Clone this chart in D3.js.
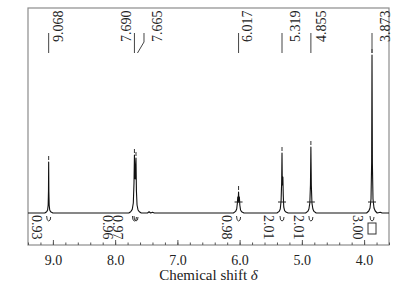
<!DOCTYPE html>
<html>
<head>
<meta charset="utf-8">
<script src="https://cdn.jsdelivr.net/npm/d3@7"></script>
<style>
  body { margin: 0; background: #fff; }
  svg { display: block; font-family: "Liberation Serif", "Times New Roman", serif; }
</style>
</head>
<body>
<svg id="chart" width="402" height="285"></svg>
<script>
// spectrum trace: [shift in ppm, intensity]
const spectrum = [
  [9.40, 0], [9.13, 0], [9.10, 0.6], [9.085, 1.5], [9.076, 4], [9.071, 11], [9.068, 25.5],
  [9.065, 11], [9.060, 4], [9.051, 1.5], [9.036, 0.6], [9.00, 0],
  [7.78, 0], [7.75, 0.6], [7.725, 1.8], [7.708, 5], [7.697, 15], [7.690, 29], [7.684, 19],
  [7.677, 17], [7.670, 24], [7.665, 27.5], [7.658, 11], [7.648, 4], [7.632, 1.5], [7.612, 0.6],
  [7.58, 0], [7.48, 0], [7.455, 0.6], [7.43, 0], [7.40, 0.4], [7.37, 0],
  [6.10, 0], [6.065, 0.8], [6.047, 2], [6.036, 5], [6.030, 8], [6.024, 5.5], [6.017, 10.5],
  [6.010, 5.5], [6.004, 8], [5.997, 4], [5.985, 1.5], [5.968, 0.6], [5.93, 0],
  [5.40, 0], [5.365, 0.8], [5.347, 2], [5.334, 6], [5.325, 15], [5.319, 30], [5.314, 14],
  [5.310, 15], [5.305, 18], [5.299, 9], [5.291, 3], [5.277, 1.2], [5.258, 0.5], [5.22, 0],
  [4.94, 0], [4.905, 0.8], [4.887, 2], [4.872, 5], [4.862, 14], [4.855, 33], [4.848, 14],
  [4.838, 5], [4.823, 2], [4.805, 0.8], [4.77, 0],
  [3.96, 0], [3.925, 1], [3.905, 2.5], [3.889, 7], [3.879, 25], [3.873, 79], [3.867, 25],
  [3.857, 7], [3.841, 2.5], [3.821, 1], [3.79, 0], [3.74, 0.4], [3.71, 0], [3.60, 0]
];

// picked peaks
const peakShifts = [9.068, 7.690, 7.665, 6.017, 5.319, 4.855, 3.873];
const peakTexts = ["9.068", "7.690", "7.665", "6.017", "5.319", "4.855", "3.873"];

// integrals
const integralValues = ["0.93", "0.96", "0.97", "0.98", "2.01", "2.01", "3.00"];
const integralAt = [9.256, 8.126, 7.954, 6.211, 5.532, 5.050, 4.098];
const integralPeaks = [9.068, 7.690, 7.665, 6.017, 5.319, 4.855, 3.873];
const integralCross = [6.017, 5.319, 4.855, 3.873];

// axis
const majorTicks = [9.0, 8.0, 7.0, 6.0, 5.0, 4.0];
const xTitle = "Chemical shift ";
const xTitleSymbol = "δ";

// layout
const plotLeft = 28, plotRight = 389, plotTop = 8, plotBottom = 245;
const baseY = 213;
const labelDx = [10, -8, 21, 9, 13, 10, 13]; // text offsets from the peak, px

const svg = d3.select('#chart');

const x = d3.scaleLinear().domain([9.4, 3.6]).range([plotLeft, plotRight]);
const y = d3.scaleLinear().domain([0, 100]).range([baseY, baseY - 200]);

// frame
svg.append('rect')
  .attr('x', plotLeft).attr('y', plotTop)
  .attr('width', plotRight - plotLeft).attr('height', plotBottom - plotTop)
  .attr('fill', 'none')
  .attr('stroke', '#8c8c8c')
  .attr('stroke-width', 1.2);

// minor ticks
const minorAxis = svg.append('g')
  .attr('transform', `translate(0,${plotBottom})`)
  .call(d3.axisBottom(x).ticks(30).tickSize(-2.5).tickFormat(''));
minorAxis.select('.domain').remove();
minorAxis.selectAll('line').attr('stroke', '#555');

// major ticks + labels
const majorAxis = svg.append('g')
  .attr('transform', `translate(0,${plotBottom})`)
  .call(d3.axisBottom(x).tickValues(majorTicks).tickFormat(d3.format('.1f'))
    .tickSize(-5).tickPadding(10));
majorAxis.select('.domain').remove();
majorAxis.selectAll('line').attr('stroke', '#555');
majorAxis.selectAll('text')
  .attr('font-family', '"Liberation Serif", serif')
  .attr('font-size', 14)
  .attr('fill', '#222');

// axis title
const title = svg.append('text')
  .attr('x', (plotLeft + plotRight) / 2)
  .attr('y', 280)
  .attr('text-anchor', 'middle')
  .attr('font-size', 15)
  .attr('fill', '#222')
  .text(xTitle);
title.append('tspan').attr('font-style', 'italic').text(xTitleSymbol);

// spectrum
const line = d3.line().x(d => x(d[0])).y(d => y(d[1]));
svg.append('path')
  .datum(spectrum)
  .attr('d', line)
  .attr('fill', 'none')
  .attr('stroke', '#111')
  .attr('stroke-width', 1.1)
  .attr('stroke-linejoin', 'round');

// peak pick marks above each peak top
peakShifts.forEach(p => {
  const pt = spectrum.find(d => d[0] === p);
  const py = y(pt[1]);
  svg.append('line')
    .attr('x1', x(p)).attr('x2', x(p))
    .attr('y1', py - 6).attr('y2', py - 2)
    .attr('stroke', '#333').attr('stroke-width', 1);
});

// peak labels and leaders
peakShifts.forEach((p, i) => {
  const px = x(p);
  const cx = px + labelDx[i];
  if (labelDx[i] > 15) {
    const lx = cx - 13;
    svg.append('path')
      .attr('d', `M${lx},33V42L${px + 1.5},53`)
      .attr('fill', 'none').attr('stroke', '#444').attr('stroke-width', 1);
  } else {
    svg.append('line')
      .attr('x1', px).attr('x2', px).attr('y1', 33).attr('y2', 53)
      .attr('stroke', '#444').attr('stroke-width', 1);
  }
  svg.append('text')
    .attr('transform', `translate(${cx + 4.7},42) rotate(-90)`)
    .attr('font-size', 14)
    .attr('fill', '#222')
    .text(peakTexts[i]);
});

// integral marks under the baseline
integralPeaks.forEach(p => {
  const px = x(p);
  svg.append('path')
    .attr('d', `M${px - 2},216Q${px - 2},221 ${px},221Q${px + 2},221 ${px + 2},217`)
    .attr('fill', 'none').attr('stroke', '#333').attr('stroke-width', 1);
});

integralCross.forEach(p => {
  const px = x(p);
  svg.append('line')
    .attr('x1', px - 4).attr('x2', px + 4).attr('y1', 202).attr('y2', 202)
    .attr('stroke', '#222').attr('stroke-width', 1);
});

// reference box
svg.append('rect')
  .attr('x', x(3.873) - 4).attr('y', 223)
  .attr('width', 8).attr('height', 11)
  .attr('fill', 'none').attr('stroke', '#333').attr('stroke-width', 1);

// integral values
integralValues.forEach((v, i) => {
  const cx = x(integralAt[i]);
  svg.append('text')
    .attr('transform', `translate(${cx - 4.7},215) rotate(90)`)
    .attr('font-size', 14)
    .attr('fill', '#222')
    .text(v);
});
</script>
</body>
</html>
